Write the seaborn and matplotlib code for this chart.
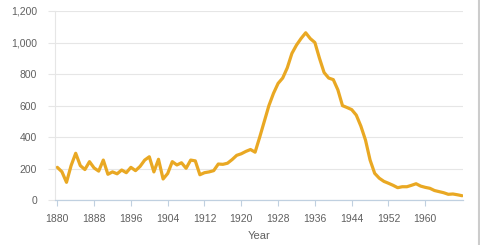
import matplotlib
matplotlib.use("Agg")
import matplotlib.pyplot as plt
import matplotlib.ticker as mticker
import seaborn as sns
import pandas as pd
from matplotlib.lines import Line2D

years = list(range(1880, 1969))
counts = [
    209, 181, 114, 220, 298, 220, 195, 245, 205, 185,
    255, 165, 180, 168, 192, 175, 209, 188, 215, 255,
    276, 180, 260, 135, 170, 245, 224, 238, 203, 255,
    250, 162, 175, 180, 188, 230, 228, 235, 258, 285,
    295, 310, 322, 305, 400, 500, 600, 678, 741, 775,
    840, 931, 984, 1026, 1062, 1025, 1000, 900, 810, 775,
    765, 700, 600, 588, 575, 540, 470, 382, 255, 171,
    140, 120, 108, 95, 80, 86, 86, 95, 105, 90,
    82, 76, 62, 55, 48, 38, 40, 35, 29,
]
x_ticks = list(range(1880, 1961, 8))
y_ticks = [0, 200, 400, 600, 800, 1000, 1200]

df = pd.DataFrame({"Year": years, "Count": counts})

sns.set_theme(style="white")
plt.rcParams["font.family"] = ["Liberation Sans", "DejaVu Sans"]

fig = plt.figure(figsize=(4.81, 2.45), dpi=100)
ax = fig.add_axes([55 / 481, 1 - 200.3 / 245, (463 - 55) / 481, (200.3 - 11) / 245])

sns.lineplot(data=df, x="Year", y="Count", ax=ax, color="#e9a823",
             linewidth=2.3, solid_joinstyle="round", solid_capstyle="round")

ax.set_xlim(1879.5, 1968.2)
ax.set_ylim(0, 1200)
ax.set_xticks(x_ticks)
ax.set_yticks(y_ticks)
ax.yaxis.set_major_formatter(mticker.FuncFormatter(lambda v, p: f"{int(v):,}"))

ax.grid(axis="y", color="#e6e6e6", linewidth=0.8)
ax.set_axisbelow(True)
for s in ["top", "right"]:
    ax.spines[s].set_visible(False)
ax.spines["left"].set_color("#e6e6e6")
ax.spines["left"].set_linewidth(0.8)
ax.spines["bottom"].set_color("#c0d0e0")
ax.spines["bottom"].set_linewidth(0.9)

ax.tick_params(axis="x", length=4, width=0.8, color="#c0d0e0", pad=6,
               labelsize=7.5, labelcolor="#606060", bottom=True)
ax.tick_params(axis="y", length=5, width=0.8, color="#e6e6e6", pad=8,
               labelsize=7.5, labelcolor="#606060", left=True)

ax.set_xlabel("Year", fontsize=8, color="#606060", labelpad=5)
ax.set_ylabel("")

fig.add_artist(Line2D([479.5 / 481, 479.5 / 481], [0, 1], transform=fig.transFigure,
                      color="#cccccc", linewidth=1.5))

fig.savefig("out.png", dpi=100)
